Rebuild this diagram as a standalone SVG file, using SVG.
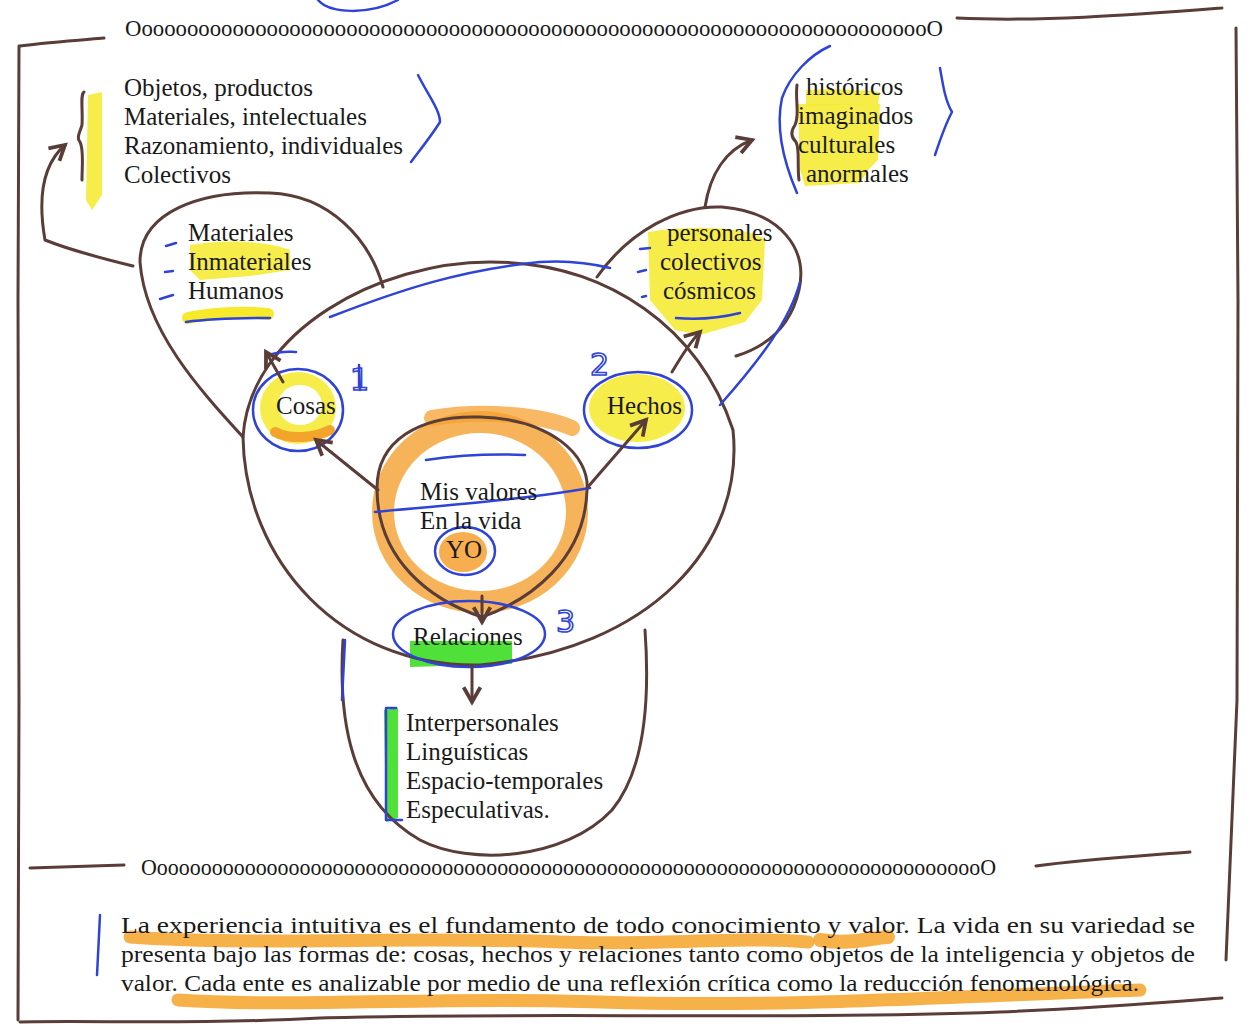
<svg xmlns="http://www.w3.org/2000/svg" width="1249" height="1027" viewBox="0 0 1249 1027">
  <style>
    .t { font-family: "Liberation Serif", "Times New Roman", serif; font-size: 25px; fill: #1a1a1a; }
    .o { font-family: "Liberation Serif", "Times New Roman", serif; font-size: 23px; fill: #1a1a1a; }
    .p { font-family: "Liberation Serif", "Times New Roman", serif; font-size: 24px; fill: #1a1a1a; }
    .ink { fill: none; stroke: #5a3d38; stroke-width: 3; stroke-linecap: round; stroke-linejoin: round; }
    .blue { fill: none; stroke: #2f43d6; stroke-width: 2.5; stroke-linecap: round; stroke-linejoin: round; }
    .num { font-family: "DejaVu Sans", sans-serif; font-size: 30px; fill: none; stroke: #2f43d6; stroke-width: 1.6; }
    .yel { fill: #f6ea2a; opacity: 0.85; }
    .hl { fill: none; stroke-linecap: round; stroke-linejoin: round; }
  </style>
  <defs>
    <marker id="ah" viewBox="0 0 10 10" refX="8" refY="5" markerWidth="7" markerHeight="7" orient="auto">
      <path d="M1,1 L8,5 L1,9" fill="none" stroke="#5a3d38" stroke-width="1.8"/>
    </marker>
  </defs>
  <rect width="1249" height="1027" fill="#ffffff"/>

  <!-- page frame, drawn by hand -->
  <g id="frame">
    <path class="ink" d="M20,46 C50,42 80,40 104,38"/>
    <path class="ink" d="M19,46 L18,300 L19,700 L18,1020"/>
    <path class="ink" d="M957,18 C1040,22 1130,15 1222,8"/>
    <path class="ink" d="M1236,28 L1238,300 L1237,700 L1226,960"/>
    <path class="ink" d="M30,868 C70,867 100,866 124,865"/>
    <path class="ink" d="M1036,866 C1080,860 1140,856 1190,852"/>
    <path class="ink" d="M20,1022 C90,1020 200,1025 320,1018 C500,1012 800,1020 1000,1012 C1100,1008 1170,1002 1222,998"/>
    <path class="blue" d="M318,0 C330,14 370,15 398,0"/>
  </g>

  <!-- highlighter marks -->
  <g id="highlights">
    <path class="yel" d="M88,95 L102,92 L102,195 L92,210 L86,200 Z"/>
    <path class="yel" d="M806,90 C830,88 860,90 880,92 L878,104 L806,106 Z"/>
    <path class="yel" d="M798,104 L880,104 L878,160 L868,170 L860,183 L805,186 L800,170 Z"/>
    <path class="yel" d="M190,245 C230,238 270,242 290,250 L290,270 L250,276 L200,280 L190,270 Z"/>
    <path class="hl" d="M188,318 C215,312 250,312 268,314" stroke="#f6ea2a" stroke-width="12"/>
    <path class="yel" d="M648,232 C700,224 750,228 765,240 L762,300 L745,322 L700,335 L675,330 L650,300 Z"/>
    <ellipse cx="298" cy="408" rx="38" ry="36" fill="#f6ea2a" opacity="0.85"/>
    <ellipse cx="300" cy="405" rx="22" ry="20" fill="#ffffff"/>
    <path class="hl" d="M275,432 C290,440 315,438 330,430" stroke="#f2a52a" stroke-width="10"/>
    <ellipse cx="637" cy="408" rx="48" ry="34" fill="#f6ea2a" opacity="0.85"/>
    <ellipse cx="480" cy="512" rx="97" ry="90" fill="none" stroke="#f5a030" stroke-width="22" opacity="0.8"/>
    <path class="hl" d="M432,418 C480,410 540,414 572,428" stroke="#f5a030" stroke-width="16" opacity="0.75"/>
    <ellipse cx="463" cy="552" rx="24" ry="20" fill="#f5a030" opacity="0.85"/>
    <path d="M410,641 L512,641 L512,664 L410,667 Z" fill="#4fe03a"/>
    <path d="M384,710 L398,708 L398,818 L386,822 Z" fill="#4fe03a"/>
    <path class="hl" d="M130,937 C250,946 420,936 560,942 C650,946 740,936 808,942" stroke="#f5a428" stroke-width="13" opacity="0.85"/>
    <path class="hl" d="M820,940 C850,945 870,938 888,937" stroke="#f5a428" stroke-width="14" opacity="0.85"/>
    <path class="hl" d="M178,1000 C300,1008 450,996 600,1002 C780,1008 960,996 1140,990" stroke="#f5a428" stroke-width="13" opacity="0.85"/>
  </g>

  <!-- hand-drawn outlines: spheres of things, facts and relations -->
  <g id="outer-circle">
    <path class="ink" d="M243,437 C250,330 380,262 490,262 C610,262 700,330 733,430 C745,545 650,650 480,665 C340,668 245,560 243,437"/>
  </g>
  <g id="lobe-cosas">
    <path class="ink" d="M243,437 C200,390 145,330 140,262 C140,212 200,190 270,193 C330,195 370,240 383,287"/>
  </g>
  <g id="lobe-hechos">
    <path class="ink" d="M597,277 C630,230 680,205 722,207 C782,212 808,250 799,290 C790,330 762,348 736,356"/>
  </g>
  <g id="lobe-relaciones">
    <path class="ink" d="M343,640 C338,720 350,800 420,840 C470,866 565,860 612,810 C645,770 650,700 645,630"/>
  </g>
  <g id="inner-circle">
    <path class="ink" d="M482,617 C430,600 378,560 377,490 C376,440 420,415 480,417 C550,419 590,455 587,490 C585,560 530,600 482,617"/>
  </g>

  <!-- blue pen annotations -->
  <g id="pen">
    <path class="blue" d="M418,75 C428,95 440,110 440,122 C432,135 420,150 411,162"/>
    <path class="blue" d="M830,46 C810,55 790,75 782,98 C775,130 785,165 797,193"/>
    <path class="blue" d="M940,68 C943,85 945,100 952,112 C945,125 940,140 935,155"/>
    <path class="blue" d="M166,246 L176,243 M165,272 L173,271 M160,299 L173,295"/>
    <path class="blue" d="M640,249 L650,248 M638,272 L646,270 M642,297 L646,296"/>
    <path class="blue" d="M186,322 C215,318 250,318 270,318"/>
    <path class="blue" d="M676,318 C700,320 720,318 740,313"/>
    <path class="blue" d="M330,317 C400,290 460,270 540,262 C570,260 590,263 610,268"/>
    <path class="blue" d="M800,282 C790,320 760,360 720,405"/>
    <path class="blue" d="M375,512 C450,505 520,500 590,488"/>
    <path class="blue" d="M426,460 C460,455 500,454 525,455"/>
    <ellipse class="blue" cx="298" cy="410" rx="45" ry="41"/>
    <ellipse class="blue" cx="638" cy="410" rx="54" ry="38"/>
    <ellipse class="blue" cx="465" cy="551" rx="30" ry="24"/>
    <ellipse class="blue" cx="469" cy="634" rx="76" ry="33"/>
    <path class="blue" d="M396,708 L386,708 L386,820 L402,820"/>
    <path class="blue" d="M268,355 C285,350 290,352 296,352"/>
    <path class="blue" d="M359,365 L360,390"/>
    <path class="blue" d="M100,915 L97,975"/>
    <path class="blue" d="M345,640 L342,700"/>
    <text class="num" x="590" y="375">2</text>
    <text class="num" x="556" y="632">3</text>
  </g>

  <!-- connectors -->
  <g id="connectors">
    <path class="ink" d="M378,490 L316,440" marker-end="url(#ah)"/>
    <path class="ink" d="M283,382 L266,352" marker-end="url(#ah)"/>
    <path class="ink" d="M587,488 L646,420" marker-end="url(#ah)"/>
    <path class="ink" d="M672,372 C685,350 692,340 700,332" marker-end="url(#ah)"/>
    <path class="ink" d="M482,596 L482,622" marker-end="url(#ah)"/>
    <path class="ink" d="M472,666 L472,702" marker-end="url(#ah)"/>
    <path class="ink" d="M133,266 C100,258 70,250 45,240 C38,200 42,165 65,145" marker-end="url(#ah)"/>
    <path class="ink" d="M705,207 C710,175 725,150 752,140" marker-end="url(#ah)"/>
    <path class="ink" d="M84,92 C80,95 83,110 82,125 C80,132 76,138 80,142 C84,150 82,165 82,180"/>
    <path class="ink" d="M797,85 C795,100 800,115 795,125 C790,132 792,138 796,142 C800,150 797,165 799,180"/>
  </g>

  <!-- ornamental rows -->
  <text class="o" x="125" y="36" textLength="818" lengthAdjust="spacingAndGlyphs">OoooooooooooooooooooooooooooooooooooooooooooooooooooooooooooooooooooooO</text>
  <text class="o" x="141" y="875" textLength="855" lengthAdjust="spacingAndGlyphs">OoooooooooooooooooooooooooooooooooooooooooooooooooooooooooooooooooooooooooooO</text>

  <g id="list-objetos">
    <text class="t" x="124" y="96">Objetos, productos</text>
    <text class="t" x="124" y="125">Materiales, intelectuales</text>
    <text class="t" x="124" y="154">Razonamiento, individuales</text>
    <text class="t" x="124" y="183">Colectivos</text>
  </g>
  <g id="list-historicos">
    <text class="t" x="806" y="95">históricos</text>
    <text class="t" x="798" y="124">imaginados</text>
    <text class="t" x="798" y="153">culturales</text>
    <text class="t" x="806" y="182">anormales</text>
  </g>
  <g id="list-materiales">
    <text class="t" x="188" y="241">Materiales</text>
    <text class="t" x="188" y="270">Inmateriales</text>
    <text class="t" x="188" y="299">Humanos</text>
  </g>
  <g id="list-personales">
    <text class="t" x="667" y="241">personales</text>
    <text class="t" x="660" y="270">colectivos</text>
    <text class="t" x="663" y="299">cósmicos</text>
  </g>
  <g id="node-cosas"><text class="t" x="276" y="414">Cosas</text><text class="num" x="350" y="390">1</text></g>
  <g id="node-hechos"><text class="t" x="607" y="414">Hechos</text></g>
  <g id="node-valores">
    <text class="t" x="420" y="500">Mis valores</text>
    <text class="t" x="420" y="529">En la vida</text>
    <text class="t" x="446" y="558">YO</text>
  </g>
  <g id="node-relaciones"><text class="t" x="413" y="645">Relaciones</text></g>
  <g id="list-relaciones">
    <text class="t" x="406" y="731">Interpersonales</text>
    <text class="t" x="406" y="760">Linguísticas</text>
    <text class="t" x="406" y="789">Espacio-temporales</text>
    <text class="t" x="406" y="818">Especulativas.</text>
  </g>

  <g id="paragraph">
    <text class="p" x="121" y="933" textLength="1074" lengthAdjust="spacingAndGlyphs">La experiencia intuitiva  es el fundamento de todo conocimiento y valor. La vida en su variedad se</text>
    <text class="p" x="121" y="962" textLength="1074" lengthAdjust="spacingAndGlyphs">presenta bajo las formas de: cosas, hechos y relaciones  tanto como  objetos de la inteligencia y objetos de</text>
    <text class="p" x="121" y="991" textLength="1018" lengthAdjust="spacingAndGlyphs">valor. Cada ente es analizable por medio de una reflexión crítica como la reducción fenomenológica.</text>
  </g>
</svg>
